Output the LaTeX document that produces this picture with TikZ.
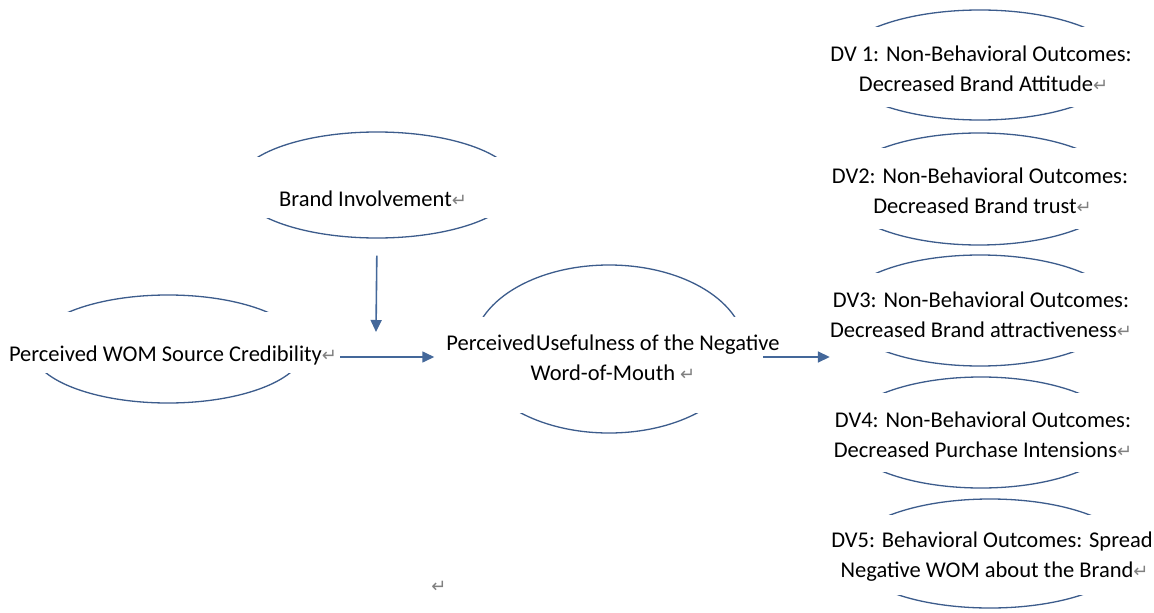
\documentclass[tikz,border=0pt]{standalone}
\usepackage{fontspec}
\setmainfont{Carlito}
\newfontfamily\retfont{DejaVu Sans}
\usetikzlibrary{shapes.geometric,arrows.meta}
\definecolor{lc}{RGB}{60,92,140}
\definecolor{ac}{RGB}{68,104,154}
\definecolor{retgray}{RGB}{128,128,128}
\newcommand\ret{{\color{retgray}\retfont\fontsize{18pt}{18pt}\selectfont ↵}}
\tikzset{
  ell/.style={ellipse, draw=lc, line width=1.3pt, inner sep=0pt},
  maskbox/.style={fill=white},
  lbl/.style={font=\fontsize{22.5pt}{30pt}\selectfont, align=center, inner sep=0pt, anchor=base},
  arr/.style={draw=ac, line width=1.6pt, -{Triangle[length=12pt,width=11pt]}}
}
\begin{document}
\begin{tikzpicture}[x=1pt,y=-1pt]
\useasboundingbox[fill=white] (0,0) rectangle (1154,613);
% ellipses
\node[ell, minimum width=280pt, minimum height=106pt] (bi-e) at (377,185) {};
\node[ell, minimum width=272pt, minimum height=108pt] (wom-e) at (168,349) {};
\node[ell, minimum width=272pt, minimum height=168pt] (pu-e) at (609,349) {};
\node[ell, minimum width=286pt, minimum height=110pt] (dv1-e) at (980,65) {};
\node[ell, minimum width=282pt, minimum height=112pt] (dv2-e) at (979,189) {};
\node[ell, minimum width=280pt, minimum height=111pt] (dv3-e) at (980,310.5) {};
\node[ell, minimum width=276pt, minimum height=111pt] (dv4-e) at (981,432.5) {};
\node[ell, minimum width=282pt, minimum height=109pt] (dv5-e) at (990,553.5) {};
% masks (text boxes hiding the ellipse sides)
\fill[maskbox] (225,157) rectangle (530,218);
\fill[maskbox] (5,312) rectangle (337,373);
\fill[maskbox] (440,317) rectangle (780,413);
\fill[maskbox] (825,27) rectangle (1140,107);
\fill[maskbox] (825,148) rectangle (1140,229);
\fill[maskbox] (825,273) rectangle (1140,352);
\fill[maskbox] (825,393) rectangle (1140,472);
\fill[maskbox] (825,515) rectangle (1152,595);
% labels
\node[lbl] (bi) at (373,206) {Brand Involvement\ret};
\node[lbl] (wom) at (173,361) {Perceived WOM Source Credibility\ret};
\node[lbl] (pu) at (613,380) {Perceived\hspace{1pt}Usefulness of the Negative\\Word-of-Mouth \ret};
\node[lbl] (dv1) at (981,91) {DV 1: Non-Behavioral Outcomes:\\\ Decreased Brand Attitude\ret};
\node[lbl] (dv2) at (980,213) {DV2: Non-Behavioral Outcomes:\\\ Decreased Brand trust\ret};
\node[lbl] (dv3) at (981,337) {DV3: Non-Behavioral Outcomes:\\Decreased Brand attractiveness\ret};
\node[lbl] (dv4) at (983,457) {DV4: Non-Behavioral Outcomes:\\Decreased Purchase Intensions\ret};
\node[lbl] (dv5) at (992,577) {DV5: Behavioral Outcomes: Spread\\\ Negative WOM about the Brand\ret};
\node[inner sep=0pt] (endmark) at (439,587) {\ret};
% connectors
\coordinate (mod) at (376,332);
\coordinate (a3s) at (763,357);
\draw[arr, shorten <=17pt] (bi-e.south) -- (mod);
\draw[arr] ([xshift=3pt]wom.east |- 0,357) -- ([xshift=-12pt]pu.west |- 0,357);
\draw[arr] (a3s) -- (dv3.west |- a3s);
\end{tikzpicture}
\end{document}
